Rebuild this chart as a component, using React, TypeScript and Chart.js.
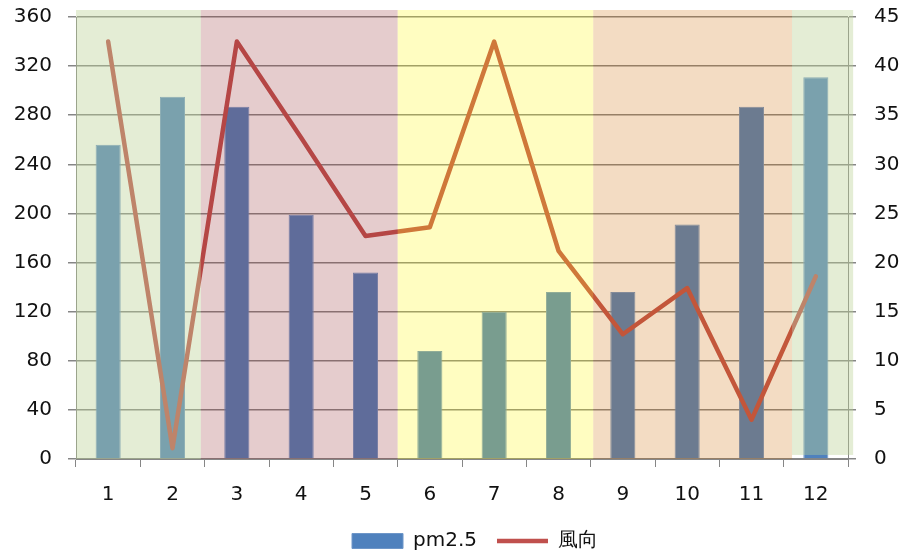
import { useEffect, useRef } from "react";
import { Chart, registerables } from "chart.js";

Chart.register(...registerables);

// Months on the category axis
const categories = ["1", "2", "3", "4", "5", "6", "7", "8", "9", "10", "11", "12"];
// pm2.5 (left axis)
const pm25 = [256, 295, 287, 199, 152, 88, 120, 136, 136, 191, 287, 311];
// 風向 (right axis)
const windDirection = [42.5, 1.1, 42.5, 32.7, 22.7, 23.6, 42.5, 21.2, 12.7, 17.4, 4.0, 18.6];

// Axis ranges
const leftMax = 360;
const leftStep = 40;
const rightMax = 45;
const rightStep = 5;

// Season shading laid over the plot, in category units (x) and left-axis units (y)
const bandFrom = [-0.5, 1.44, 4.5, 7.54, 10.63];
const bandTo = [1.44, 4.5, 7.54, 10.63, 11.58];
const bandLow = [0, 0, 0, 0, 3.3];
const bandHigh = 365.7;
const bandColors = [
  "rgba(187,210,150,0.40)",
  "rgba(147,42,47,0.24)",
  "rgba(255,247,0,0.245)",
  "rgba(204,106,0,0.235)",
  "rgba(187,210,150,0.40)",
];

const FONT = "'DejaVu Sans', Verdana, sans-serif";
const GRID = "#868686";

const seasonOverlay = {
  id: "seasonOverlay",
  afterDatasetsDraw(chart: any) {
    const { ctx, scales } = chart;
    const x = scales.x;
    const y = scales.y;
    const top = y.getPixelForValue(bandHigh);
    ctx.save();
    for (let i = 0; i < bandFrom.length; i++) {
      const x0 = x.getPixelForValue(bandFrom[i]);
      const x1 = x.getPixelForValue(bandTo[i]);
      const bottom = y.getPixelForValue(bandLow[i]);
      ctx.fillStyle = bandColors[i];
      ctx.fillRect(x0, top, x1 - x0, bottom - top);
    }
    ctx.restore();
  },
};

const legendShift = {
  id: "legendShift",
  afterLayout(chart: any) {
    const lg = chart.legend;
    if (!lg) return;
    const dx = 22;
    const dy = 561 - lg.bottom;
    lg.left += dx;
    lg.right += dx;
    lg.top += dy;
    lg.bottom += dy;
  },
};

// keep the value axes from reserving extra room above/below the plot
function fixVertical(width: number) {
  return (scale: any) => {
    scale.width = width;
    scale.paddingTop = 0;
    scale.paddingBottom = 0;
  };
}

export default function App() {
  const canvasRef = useRef<HTMLCanvasElement | null>(null);

  useEffect(() => {
    const canvas = canvasRef.current;
    if (!canvas) return;
    const chart = new Chart(canvas, {
      type: "bar",
      data: {
        labels: categories,
        datasets: [
          {
            type: "line",
            label: "風向",
            data: windDirection,
            yAxisID: "y1",
            borderColor: "#C0504D",
            backgroundColor: "#C0504D",
            borderWidth: 4.5,
            borderCapStyle: "round",
            borderJoinStyle: "round",
            pointRadius: 0,
            pointHoverRadius: 0,
            pointStyle: "line",
            tension: 0,
            order: 0,
          } as any,
          {
            type: "bar",
            label: "pm2.5",
            data: pm25,
            yAxisID: "y",
            backgroundColor: "#4F81BD",
            borderColor: "#6E96C8",
            borderWidth: 1,
            pointStyle: "rect",
            categoryPercentage: 0.39,
            barPercentage: 1,
            order: 1,
          } as any,
        ],
      },
      options: {
        responsive: false,
        animation: false,
        layout: { padding: { top: 17, left: 0, right: 0, bottom: 0 }, autoPadding: false },
        plugins: {
          tooltip: { enabled: false },
          legend: {
            position: "bottom",
            reverse: true,
            labels: {
              usePointStyle: true,
              pointStyleWidth: 51,
              boxHeight: 15,
              padding: 20,
              color: "#111",
              font: { family: FONT, size: 20 },
            },
          },
        },
        scales: {
          x: {
            type: "category",
            offset: true,
            grid: {
              offset: true,
              drawOnChartArea: false,
              drawTicks: true,
              tickLength: 8,
              color: GRID,
            },
            border: { color: GRID, width: 1 },
            ticks: { color: "#111", padding: 16, font: { family: FONT, size: 20 } },
            afterFit(scale: any) {
              const lh = scale.chart.legend ? scale.chart.legend.height : 40;
              scale.height = 100 - lh;
            },
          },
          y: {
            position: "left",
            min: 0,
            max: leftMax,
            ticks: {
              stepSize: leftStep,
              color: "#111",
              padding: 16,
              font: { family: FONT, size: 20 },
            },
            grid: { color: GRID, lineWidth: 1.5, tickLength: 8 },
            border: { color: GRID, width: 1 },
            afterFit: fixVertical(76),
          },
          y1: {
            position: "right",
            min: 0,
            max: rightMax,
            ticks: {
              stepSize: rightStep,
              color: "#111",
              padding: 18,
              font: { family: FONT, size: 20 },
            },
            grid: { drawOnChartArea: false, color: GRID, lineWidth: 1.5, tickLength: 8 },
            border: { color: GRID, width: 1 },
            afterFit: fixVertical(58),
          },
        },
      },
      plugins: [seasonOverlay, legendShift],
    });
    return () => chart.destroy();
  }, []);

  return (
    <div style={{ position: "absolute", left: 0, top: 0, width: 906, height: 559, background: "#fff" }}>
      <canvas ref={canvasRef} width={906} height={559} style={{ display: "block" }} />
    </div>
  );
}
